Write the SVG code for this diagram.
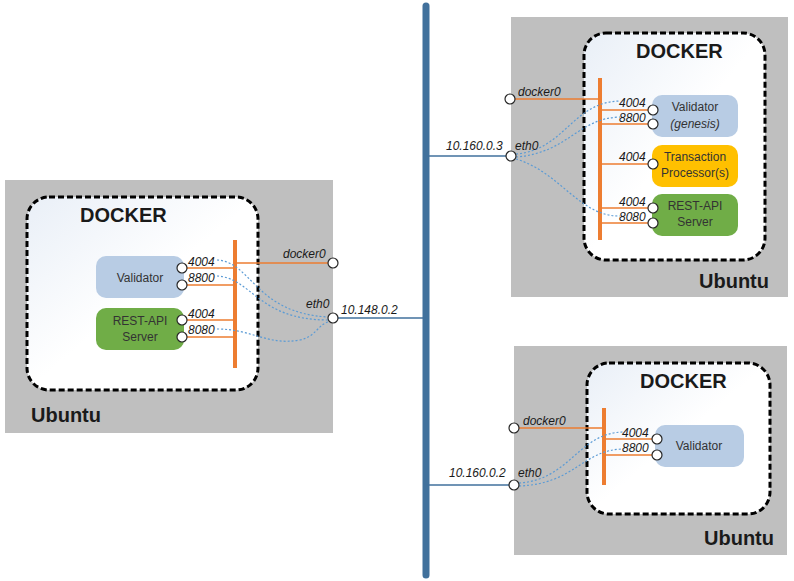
<svg xmlns="http://www.w3.org/2000/svg" width="794" height="581" viewBox="0 0 794 581">
<defs>
<linearGradient id="dg" x1="0" y1="0" x2="1" y2="1">
<stop offset="0" stop-color="#e9eff7"/>
<stop offset="0.5" stop-color="#ffffff"/>
<stop offset="1" stop-color="#ffffff"/>
</linearGradient>
<style>
.ubuntu{fill:#bfbfbf;}
.docker{fill:url(#dg);stroke:#000;stroke-width:3;stroke-dasharray:6 3;}
.t-big{font-family:"Liberation Sans",Arial,sans-serif;font-weight:bold;font-size:20px;fill:#1a1a1a;}
.t-node{font-family:"Liberation Sans",Arial,sans-serif;font-size:12px;fill:#333333;text-anchor:middle;}
.t-lab{font-family:"Liberation Sans",Arial,sans-serif;font-style:italic;font-size:12px;fill:#1a1a1a;}
.val{fill:#b8cce4;}
.rest{fill:#70ad47;}
.tp{fill:#ffc000;}
.bar{stroke:#ed7d31;stroke-width:4;}
.ol{stroke:#ed7d31;stroke-width:1.5;fill:none;}
.port{fill:#fff;stroke:#262626;stroke-width:1.2;}
.dot{fill:none;stroke:#5b9bd5;stroke-width:1.2;stroke-dasharray:2 2;}
.net{stroke:#41719c;stroke-width:1.3;}
</style>
</defs>

<!-- Left host -->
<g id="host-left">
<rect class="ubuntu" x="5" y="180" width="328" height="253"/>
<rect class="docker" x="27" y="197" width="231" height="193" rx="22"/>
<text class="t-big" x="80" y="222">DOCKER</text>
<text class="t-big" x="31" y="422">Ubuntu</text>
</g>
<g id="left-validator">
<rect class="val" x="96" y="256" width="88" height="42" rx="10"/>
<text class="t-node" x="140" y="282">Validator</text>
</g>
<g id="left-rest">
<rect class="rest" x="96" y="308" width="88" height="42" rx="10"/>
<text class="t-node" x="140" y="325">REST-API</text>
<text class="t-node" x="140" y="341">Server</text>
</g>

<!-- Top-right host -->
<g id="host-top">
<rect class="ubuntu" x="511" y="17" width="277" height="280"/>
<rect class="docker" x="584" y="33" width="181" height="227" rx="22"/>
<text class="t-big" x="636" y="58">DOCKER</text>
<text class="t-big" x="699" y="288">Ubuntu</text>
</g>
<g id="top-validator">
<rect class="val" x="652" y="95" width="86" height="42" rx="10"/>
<text class="t-node" x="695" y="111">Validator</text>
<text class="t-node" x="695" y="128" font-style="italic" font-size="11">(genesis)</text>
</g>
<g id="top-tp">
<rect class="tp" x="652" y="145" width="86" height="42" rx="10"/>
<text class="t-node" x="695" y="161">Transaction</text>
<text class="t-node" x="695" y="177">Processor(s)</text>
</g>
<g id="top-rest">
<rect class="rest" x="652" y="194" width="86" height="42" rx="10"/>
<text class="t-node" x="695" y="210">REST-API</text>
<text class="t-node" x="695" y="226">Server</text>
</g>

<!-- Bottom-right host -->
<g id="host-bottom">
<rect class="ubuntu" x="514" y="346" width="273" height="209"/>
<rect class="docker" x="587" y="363" width="183" height="151" rx="22"/>
<text class="t-big" x="640" y="388">DOCKER</text>
<text class="t-big" x="704" y="545">Ubuntu</text>
</g>
<g id="bottom-validator">
<rect class="val" x="655" y="425" width="89" height="42" rx="10"/>
<text class="t-node" x="699" y="450">Validator</text>
</g>

<!-- Connectors -->
<g id="connectors">
<line x1="426" y1="6" x2="426" y2="575" stroke="#41719c" stroke-width="7" stroke-linecap="round"/>
<line class="net" x1="333" y1="318" x2="426" y2="318"/>
<line class="net" x1="426" y1="156" x2="511" y2="156"/>
<line class="net" x1="426" y1="485" x2="514" y2="485"/>

<!-- left bridge -->
<line class="bar" x1="235" y1="240" x2="235" y2="368"/>
<line class="ol" x1="235" y1="263" x2="333" y2="263"/>
<line class="ol" x1="182" y1="268" x2="235" y2="268"/>
<line class="ol" x1="182" y1="285" x2="235" y2="285"/>
<line class="ol" x1="182" y1="320" x2="235" y2="320"/>
<line class="ol" x1="182" y1="337" x2="235" y2="337"/>
<path class="dot" d="M217,260 C252,262 255,313 328,317"/>
<path class="dot" d="M217,276 C252,278 258,320 328,320"/>
<path class="dot" d="M217,329 C252,329 268,346 300,340 C315,337 318,325 328,322"/>
<circle class="port" cx="182" cy="268" r="5"/>
<circle class="port" cx="182" cy="285" r="5"/>
<circle class="port" cx="182" cy="320" r="5"/>
<circle class="port" cx="182" cy="337" r="5"/>
<circle class="port" cx="333" cy="263" r="5"/>
<circle class="port" cx="333" cy="318" r="5"/>
<text class="t-lab" x="188" y="266">4004</text>
<text class="t-lab" x="188" y="282">8800</text>
<text class="t-lab" x="188" y="318">4004</text>
<text class="t-lab" x="188" y="334">8080</text>
<text class="t-lab" x="283" y="258">docker0</text>
<text class="t-lab" x="306" y="308">eth0</text>
<text class="t-lab" x="341" y="314">10.148.0.2</text>

<!-- top-right bridge -->
<line class="bar" x1="600" y1="78" x2="600" y2="240"/>
<line class="ol" x1="510" y1="99" x2="600" y2="99"/>
<line class="ol" x1="600" y1="110" x2="653" y2="110"/>
<line class="ol" x1="600" y1="124" x2="653" y2="124"/>
<line class="ol" x1="600" y1="164" x2="653" y2="164"/>
<line class="ol" x1="600" y1="208" x2="653" y2="208"/>
<line class="ol" x1="600" y1="223" x2="653" y2="223"/>
<path class="dot" d="M516,154 C565,150 572,102 620,101"/>
<path class="dot" d="M516,157 C568,153 578,118 620,117"/>
<path class="dot" d="M516,159 C560,172 580,217 620,216"/>
<circle class="port" cx="653" cy="110" r="5"/>
<circle class="port" cx="653" cy="124" r="5"/>
<circle class="port" cx="653" cy="164" r="5"/>
<circle class="port" cx="653" cy="208" r="5"/>
<circle class="port" cx="653" cy="223" r="5"/>
<circle class="port" cx="510" cy="99" r="5"/>
<circle class="port" cx="511" cy="156" r="5"/>
<text class="t-lab" x="619" y="107">4004</text>
<text class="t-lab" x="619" y="122">8800</text>
<text class="t-lab" x="619" y="161">4004</text>
<text class="t-lab" x="619" y="206">4004</text>
<text class="t-lab" x="619" y="221">8080</text>
<text class="t-lab" x="518" y="96">docker0</text>
<text class="t-lab" x="515" y="150">eth0</text>
<text class="t-lab" x="446" y="150">10.160.0.3</text>

<!-- bottom-right bridge -->
<line class="bar" x1="604" y1="408" x2="604" y2="485"/>
<line class="ol" x1="514" y1="428" x2="604" y2="428"/>
<line class="ol" x1="604" y1="439" x2="657" y2="439"/>
<line class="ol" x1="604" y1="455" x2="657" y2="455"/>
<path class="dot" d="M519,483 C570,480 578,433 623,432"/>
<path class="dot" d="M519,486 C575,484 582,450 623,449"/>
<circle class="port" cx="657" cy="439" r="5"/>
<circle class="port" cx="657" cy="455" r="5"/>
<circle class="port" cx="514" cy="428" r="5"/>
<circle class="port" cx="514" cy="485" r="5"/>
<text class="t-lab" x="622" y="437">4004</text>
<text class="t-lab" x="622" y="452">8800</text>
<text class="t-lab" x="523" y="425">docker0</text>
<text class="t-lab" x="518" y="477">eth0</text>
<text class="t-lab" x="449" y="477">10.160.0.2</text>
</g>
</svg>
